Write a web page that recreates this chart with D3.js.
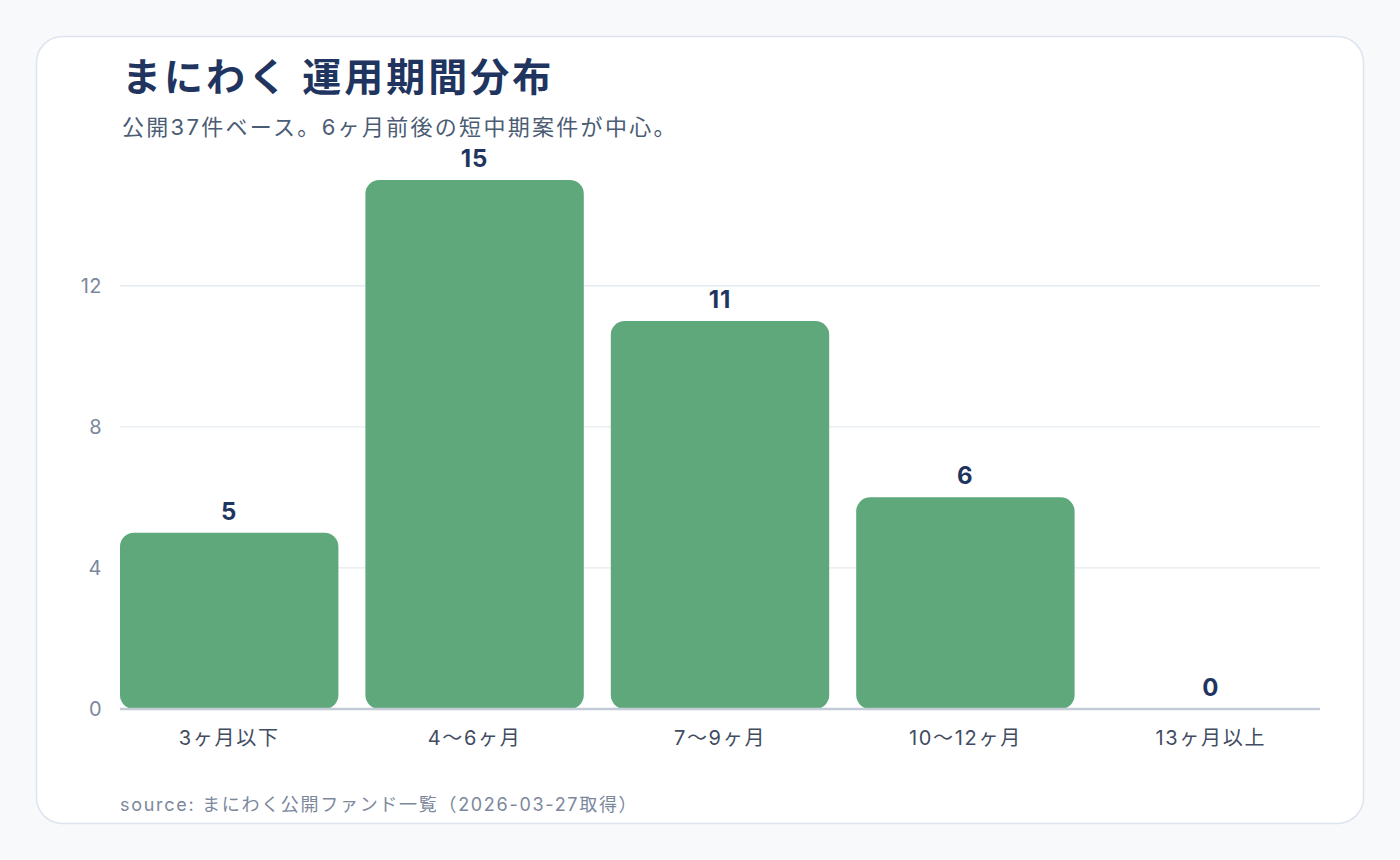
<!DOCTYPE html>
<html><head><meta charset="utf-8">
<script src="https://cdn.jsdelivr.net/npm/d3@7"></script>
<style>
html,body{margin:0;padding:0;background:#f7f9fb;}
svg{display:block;font-family:"Inter","Noto Sans CJK JP",sans-serif;}
</style></head><body>
<svg id="c" width="1400" height="860"></svg>
<script>
const categories = ["3ヶ月以下","4〜6ヶ月","7〜9ヶ月","10〜12ヶ月","13ヶ月以上"];
const counts = [5, 15, 11, 6, 0];
const yTicks = [0, 4, 8, 12];
const titleText = "まにわく 運用期間分布";
const subtitleText = "公開37件ベース。6ヶ月前後の短中期案件が中心。";
const sourceText = "source: まにわく公開ファンド一覧（2026-03-27取得）";

const svg = d3.select("#c");
svg.append("rect").attr("x",36.5).attr("y",36.5).attr("width",1327).attr("height",787)
  .attr("rx",26).attr("fill","#fff").attr("stroke","#dde4ee").attr("stroke-width",1.5);

const x = d3.scaleBand().domain(categories).range([120,1320]).paddingInner(0.11).paddingOuter(0);
const y = d3.scaleLinear().domain([0,16.5]).range([709,127]);

svg.append("g").selectAll("line").data(yTicks.filter(d=>d>0)).join("line")
  .attr("x1",120).attr("x2",1320).attr("y1",d=>y(d)).attr("y2",d=>y(d))
  .attr("stroke","#e6ebf2").attr("stroke-width",1.3);

svg.append("g").selectAll("text").data(yTicks).join("text")
  .attr("x",102).attr("y",d=>y(d)).attr("dy","0.36em").attr("text-anchor","end")
  .attr("fill","#7b889c").attr("font-size",20).attr("letter-spacing",0.5).text(d=>d);

svg.append("g").selectAll("rect").data(counts).join("rect")
  .attr("x",(d,i)=>x(categories[i])).attr("width",x.bandwidth())
  .attr("y",d=>y(d)).attr("height",d=>y(0)-y(d))
  .attr("rx",d=>d>0?14:0).attr("fill","#5fa87b");

svg.append("line").attr("x1",120).attr("x2",1320).attr("y1",y(0)).attr("y2",y(0))
  .attr("stroke","#c3cbd7").attr("stroke-width",2.5);

svg.append("g").selectAll("text").data(counts).join("text")
  .attr("x",(d,i)=>x(categories[i])+x.bandwidth()/2).attr("y",d=>y(d)-13)
  .attr("text-anchor","middle").attr("fill","#1f3560").attr("font-size",24).attr("font-weight",700)
  .attr("letter-spacing",1).text(d=>d);

svg.append("g").selectAll("text").data(categories).join("text")
  .attr("x",d=>x(d)+x.bandwidth()/2).attr("y",745)
  .attr("text-anchor","middle").attr("fill","#3f4c61").attr("font-size",20)
  .attr("letter-spacing",1.7).text(d=>d);

svg.append("text").attr("x",122).attr("y",91).attr("fill","#1f3560")
  .attr("font-size",39).attr("font-weight",700).attr("letter-spacing",3).text(titleText);
svg.append("text").attr("x",122).attr("y",135).attr("fill","#4b5c74")
  .attr("font-size",22).attr("letter-spacing",2.3).text(subtitleText);
svg.append("text").attr("x",120).attr("y",811).attr("fill","#7b889c")
  .attr("font-size",18).attr("letter-spacing",1.7).text(sourceText);
</script></body></html>
